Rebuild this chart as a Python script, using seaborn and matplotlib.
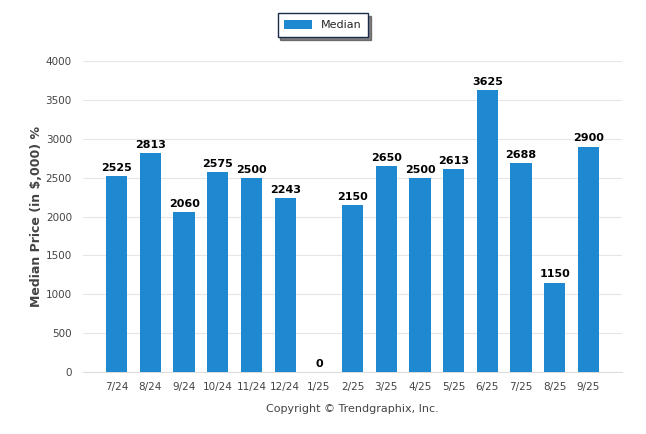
import pandas as pd
import seaborn as sns
import matplotlib.pyplot as plt

# Monthly median price data
months = ["7/24", "8/24", "9/24", "10/24", "11/24", "12/24", "1/25", "2/25",
          "3/25", "4/25", "5/25", "6/25", "7/25", "8/25", "9/25"]
median = [2525, 2813, 2060, 2575, 2500, 2243, 0, 2150,
          2650, 2500, 2613, 3625, 2688, 1150, 2900]

df = pd.DataFrame({"month": months, "Median": median})

sns.set_style("white")
plt.rcParams["font.family"] = ["DejaVu Sans"]

fig = plt.figure(figsize=(6.46, 4.34), dpi=100)
ax = fig.add_axes([0.1285, 0.1429, 0.963 - 0.1285, 0.8594 - 0.1429])

sns.barplot(data=df, x="month", y="Median", color="#1e88d0", width=0.63,
            saturation=1, linewidth=0, ax=ax, label="Median", zorder=3)

# value labels above bars
for i, v in enumerate(median):
    ax.text(i, v + 40, str(v), ha="center", va="bottom", fontsize=8,
            fontweight="bold", color="black", zorder=4)

ax.set_xlim(-1, 15)
ax.set_ylim(0, 4000)
ax.set_yticks(range(0, 4001, 500))
ax.set_yticklabels([str(t) for t in range(0, 4001, 500)])
ax.set_xticks(range(-1, 16))
ax.set_xticklabels([""] + months + [""])
ax.tick_params(axis="x", length=4, color="#dddddd", labelsize=7.5, labelcolor="#444444", pad=3)
ax.tick_params(axis="y", length=0, labelsize=7.5, labelcolor="#444444", pad=8)
ax.grid(axis="y", color="#e6e6e6", linewidth=0.8, zorder=0)
for s in ["top", "right", "left"]:
    ax.spines[s].set_visible(False)
ax.spines["bottom"].set_color("#dddddd")

ax.set_xlabel("")
ax.set_ylabel("Median Price (in $,000) %", fontsize=9, fontweight="bold",
              color="#444444", labelpad=2)

leg = ax.legend(loc="center", bbox_to_anchor=(323 / 646, 1 - 25 / 434),
                bbox_transform=fig.transFigure, frameon=True, fancybox=False,
                shadow={"color": "#333333", "alpha": 0.6}, fontsize=8,
                handlelength=2.5, handleheight=0.9, borderpad=0.6,
                edgecolor="#1a2a4a")
leg.get_frame().set_linewidth(1)

fig.text(352 / 646, 1 - 409 / 434, "Copyright \u00a9 Trendgraphix, Inc.",
         ha="center", va="center", fontsize=8, color="#444444")

fig.savefig("out.png", dpi=100)
